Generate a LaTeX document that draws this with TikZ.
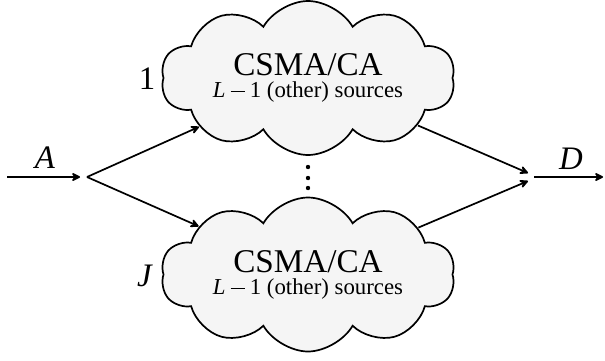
\documentclass[tikz,border=0pt]{standalone}
\usepackage{fontspec}
\setmainfont{Liberation Serif}
\usetikzlibrary{shapes.symbols,arrows.meta}
\newcommand{\mminus}{\hspace{0.22em}\rule[0.24em]{0.62em}{0.045em}\hspace{0.22em}}
\begin{document}
\begin{tikzpicture}[x=0.5pt,y=-0.5pt, line width=0.85pt,
  net/.style={cloud, cloud puffs=10, cloud puff arc=120, cloud ignores aspect,
    draw, fill=black!4, minimum width=147pt, minimum height=77pt,
    inner sep=0pt, align=center},
  big/.style={font=\fontsize{16.4}{18}\selectfont},
  flow/.style={-{Stealth[length=5.5pt,width=5.5pt,inset=2.2pt,round]}}]
\useasboundingbox (0,0) rectangle (605,360);
\node[net] (top) at (308,78)
  {{\fontsize{16.6}{18}\selectfont CSMA/CA}\\[-1pt]{\fontsize{11.4}{13}\selectfont\textit{L}\mminus 1 (other) sources}};
\node[net] (bot) at (308,274.5)
  {{\fontsize{16.6}{18}\selectfont CSMA/CA}\\[-1pt]{\fontsize{11.4}{13}\selectfont\textit{L}\mminus 1 (other) sources}};
\coordinate (src) at (7,177);
\coordinate (fin) at (80,177);
\coordinate (fork) at (87,177);
\coordinate (j1) at (528,173);
\coordinate (j2) at (528,181);
\coordinate (jout) at (534,177);
\coordinate (sink) at (603,177);
\draw[flow] (src) -- (fin);
\draw[flow] (fork) -- (top);
\draw[flow] (fork) -- (bot);
\draw[flow] (top) -- (j1);
\draw[flow] (bot) -- (j2);
\draw[flow] (jout) -- (sink);
\node[big] (la) at (45,158) {\textit{A}};
\node[big] (ld) at (571,159) {\textit{D}};
\node[big] (l1) at (147,79) {1};
\node[big] (lj) at (145,276) {\textit{J}};
\foreach \yy in {167,178,188} \fill (308,\yy) circle (1.1pt);
\end{tikzpicture}
\end{document}
